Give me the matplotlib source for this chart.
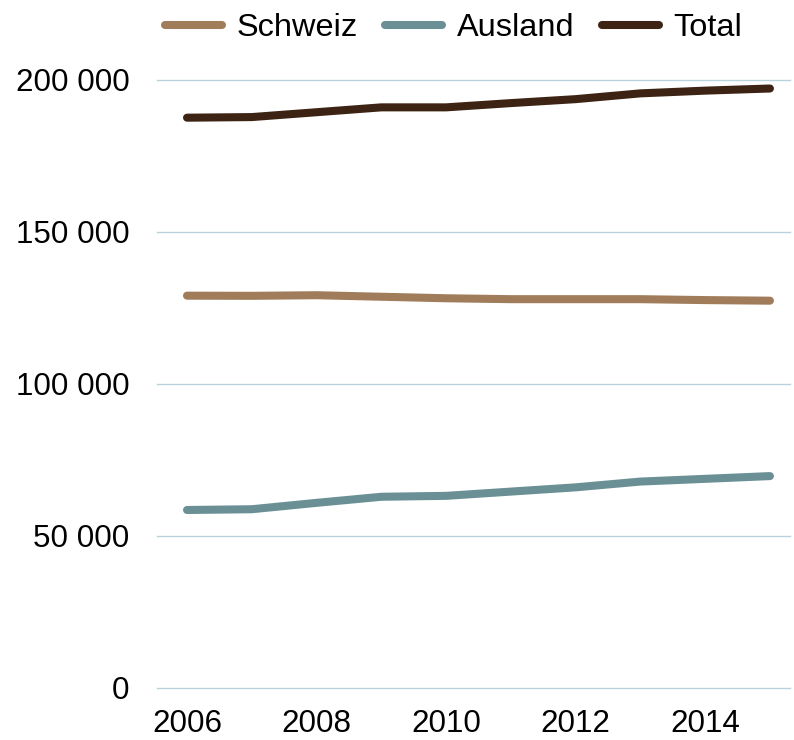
import matplotlib
matplotlib.use("Agg")
import matplotlib.pyplot as plt
from matplotlib.ticker import FuncFormatter

plt.rcParams['font.family'] = ['Liberation Sans', 'DejaVu Sans']

years = [2006, 2007, 2008, 2009, 2010, 2011, 2012, 2013, 2014, 2015]
schweiz = [129050, 129000, 129200, 128700, 128200, 127900, 127900, 127900, 127600, 127400]
ausland = [58550, 58800, 60900, 62900, 63200, 64600, 66000, 67900, 68800, 69700]
total = [187600, 187800, 189400, 191000, 191000, 192400, 193700, 195600, 196500, 197200]

series_names = ["Schweiz", "Ausland", "Total"]
colors = ["#a07c5a", "#6a9096", "#3d2314"]

fig = plt.figure(figsize=(7.94, 7.40), dpi=100)
ax = fig.add_axes([0.198, 0.0703, 0.797, 0.8216])

for vals, name, c in zip([schweiz, ausland, total], series_names, colors):
  ax.plot(years, vals, color=c, lw=5.8, solid_capstyle="round", solid_joinstyle="round", label=name)

ax.set_ylim(0, 200000)
ax.set_xlim(2005.54, 2015.31)
ax.set_yticks([0, 50000, 100000, 150000, 200000])
ax.set_xticks([2006, 2008, 2010, 2012, 2014])
ax.yaxis.set_major_formatter(FuncFormatter(lambda v, p: f"{int(v):,}".replace(",", " ")))

ax.grid(axis="y", color="#b9d3dc", lw=1)
for gl in ax.get_ygridlines():
  gl.set_clip_on(False)
ax.set_axisbelow(True)
for s in ax.spines.values():
  s.set_visible(False)
ax.tick_params(axis="both", length=0, labelsize=22.6, colors="black")
ax.tick_params(axis="y", pad=20)
ax.tick_params(axis="x", pad=15)

fig.legend(loc="upper center", bbox_to_anchor=(0.571, 1.022), ncol=3, frameon=False,
           fontsize=23.4, handlelength=1.75, handletextpad=0.45, columnspacing=0.85)

fig.savefig("out.png", dpi=100)
